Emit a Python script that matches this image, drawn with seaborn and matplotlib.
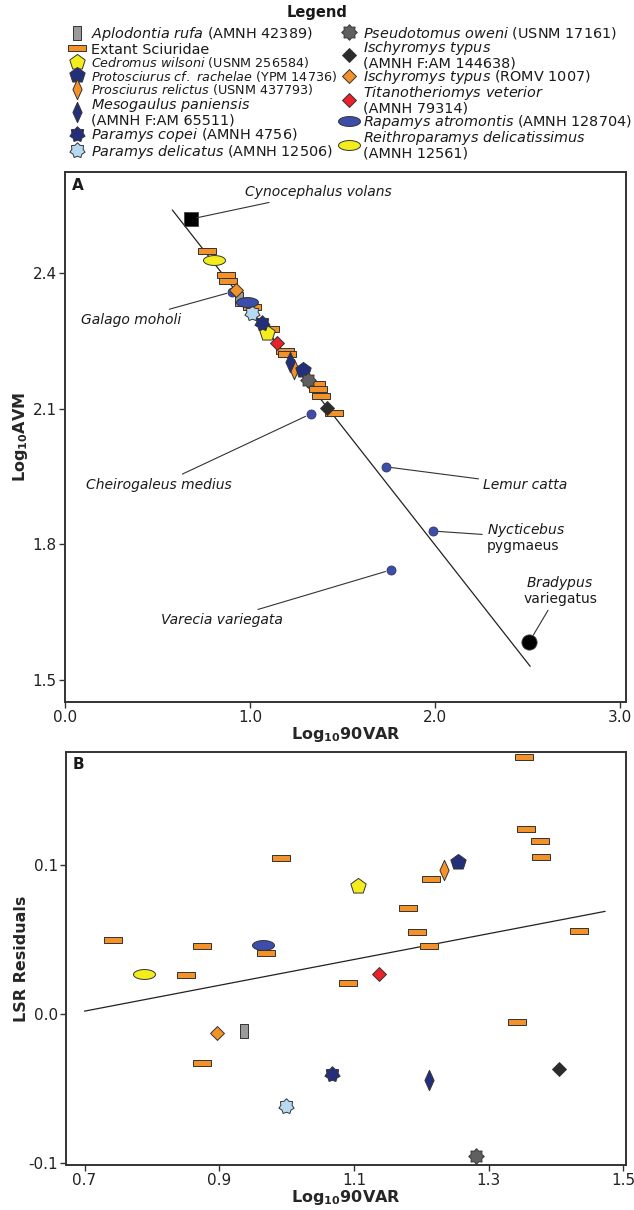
import numpy as np
import seaborn as sns
import matplotlib.pyplot as plt
from matplotlib.path import Path

# ---- data ----
# fossil rodents (legend order)
fossil_labels = [
    r"$\mathit{Aplodontia\ rufa}$ (AMNH 42389)",
    r"$\mathit{Cedromus\ wilsoni}$ (USNM 256584)",
    r"$\mathit{Protosciurus\ cf.\ rachelae}$ (YPM 14736)",
    r"$\mathit{Prosciurus\ relictus}$ (USNM 437793)",
    r"$\mathit{Mesogaulus\ paniensis}$" + "\n(AMNH F:AM 65511)",
    r"$\mathit{Paramys\ copei}$ (AMNH 4756)",
    r"$\mathit{Paramys\ delicatus}$ (AMNH 12506)",
    r"$\mathit{Pseudotomus\ oweni}$ (USNM 17161)",
    r"$\mathit{Ischyromys\ typus}$" + "\n(AMNH F:AM 144638)",
    r"$\mathit{Ischyromys\ typus}$ (ROMV 1007)",
    r"$\mathit{Titanotheriomys\ veterior}$" + "\n(AMNH 79314)",
    r"$\mathit{Rapamys\ atromontis}$ (AMNH 128704)",
    r"$\mathit{Reithroparamys\ delicatissimus}$" + "\n(AMNH 12561)",
]
fossil_var_a = [0.942, 1.094, 1.288, 1.240, 1.216, 1.066, 1.012, 1.315, 1.414, 0.924, 1.148, 0.986, 0.805]
fossil_avm = [2.342, 2.266, 2.185, 2.188, 2.202, 2.290, 2.312, 2.163, 2.102, 2.361, 2.245, 2.336, 2.429]
fossil_var_b = [0.937, 1.106, 1.255, 1.234, 1.212, 1.067, 0.999, 1.282, 1.404, 0.897, 1.137, 0.965, 0.788]
fossil_res = [-0.011, 0.086, 0.102, 0.097, -0.044, -0.040, -0.062, -0.095, -0.037, -0.013, 0.027, 0.0465, 0.027]

sciurid_label = "Extant Sciuridae"
sciurid_var_a = [0.766, 0.869, 0.883, 1.009, 1.108, 1.189, 1.198, 1.355, 1.366, 1.384, 1.454]
sciurid_avm = [2.449, 2.396, 2.382, 2.325, 2.275, 2.227, 2.221, 2.154, 2.144, 2.127, 2.090]
sciurid_var_b = [0.742, 0.875, 0.969, 0.851, 0.991, 1.091, 1.353, 1.356, 1.377, 1.378, 1.215,
                 1.180, 1.194, 1.212, 1.434, 0.875, 1.342]
sciurid_res = [0.050, 0.046, 0.041, 0.026, 0.1045, 0.021, 0.1725, 0.124, 0.116, 0.1055, 0.0905,
               0.071, 0.055, 0.046, 0.056, -0.033, -0.005]

primate_names = ["Galago moholi", "Cheirogaleus medius", "Lemur catta",
                 "Nycticebus pygmaeus", "Varecia variegata"]
primate_var = [0.903, 1.328, 1.735, 1.989, 1.761]
primate_avm = [2.358, 2.088, 1.971, 1.829, 1.743]

cyno_var, cyno_avm = [0.681], [2.519]
brady_var, brady_avm = [2.508], [1.583]

lsr_a_var, lsr_a_avm = [0.58, 2.514], [2.539, 1.530]
lsr_b_var, lsr_b_res = [0.700, 1.473], [0.002, 0.069]


# ---- marker shapes ----
def poly(verts):
    return Path(np.vstack([verts, verts[:1]]), closed=True)


def star(n, inner):
    k = np.arange(2 * n)
    ang = np.pi / 2 + k * np.pi / n
    r = np.where(k % 2 == 0, 1.0, inner)
    return poly(np.column_stack([r * np.cos(ang), r * np.sin(ang)]))


t = np.linspace(0, 2 * np.pi, 60, endpoint=False)
m_bar = poly(np.array([(-1, -0.3), (1, -0.3), (1, 0.3), (-1, 0.3)]))
m_tall = poly(np.array([(-0.6, -1), (0.6, -1), (0.6, 1), (-0.6, 1)]))
m_diam = poly(np.array([(0, 1), (1, 0), (0, -1), (-1, 0)]))
m_thin = poly(np.array([(0, 1), (0.45, 0), (0, -1), (-0.45, 0)]))
m_ell = poly(np.column_stack([np.cos(t), 0.45 * np.sin(t)]))
m_star7 = star(7, 0.74)
m_star8 = star(8, 0.74)

orange, navy, yellow = "#F39229", "#242F7C", "#F3ED1E"
fossil_style = [
    (m_tall, "#9B9B9B", 110),
    ("p", yellow, 135),
    ("p", navy, 135),
    (m_thin, orange, 215),
    (m_thin, navy, 215),
    (m_star7, navy, 125),
    (m_star7, "#B7DAF2", 125),
    (m_star8, "#606060", 125),
    (m_diam, "#2B2B2B", 100),
    (m_diam, orange, 100),
    (m_diam, "#E8212B", 100),
    (m_ell, "#3D4DAA", 250),
    (m_ell, yellow, 250),
]
draw_order = [0, 3, 4, 1, 2, 5, 6, 7, 8, 9, 10, 11, 12]
edge = dict(edgecolor="#333333", linewidth=0.7)

sns.set_theme(style="ticks")
plt.rcParams["font.family"] = ["DejaVu Sans"]
plt.rcParams["mathtext.fontset"] = "custom"
plt.rcParams["mathtext.rm"] = "DejaVu Sans"
plt.rcParams["mathtext.it"] = "DejaVu Sans:italic"
plt.rcParams["mathtext.bf"] = "DejaVu Sans:bold"
plt.rcParams["text.color"] = "#1a1a1a"

fig = plt.figure(figsize=(6.34, 12.1), dpi=100)
ax_a = fig.add_axes([65 / 634, 1 - 702 / 1210, 561 / 634, 530 / 1210])
ax_b = fig.add_axes([66 / 634, 1 - 1165 / 1210, 560 / 634, 413 / 1210])

# ---- panel A ----
sns.lineplot(x=lsr_a_var, y=lsr_a_avm, ax=ax_a, color="#222222", lw=0.9, zorder=1)
sns.scatterplot(x=primate_var, y=primate_avm, ax=ax_a, marker="o", s=42,
                color="#3D4DAA", edgecolor="#333366", linewidth=0.6, zorder=2, legend=False)
sns.scatterplot(x=cyno_var, y=cyno_avm, ax=ax_a, marker="s", s=110, color="black",
                edgecolor="#444444", linewidth=0.6, zorder=2, legend=False)
sns.scatterplot(x=brady_var, y=brady_avm, ax=ax_a, marker="o", s=120, color="black",
                edgecolor="#444444", linewidth=0.6, zorder=2, legend=False)
sns.scatterplot(x=sciurid_var_a, y=sciurid_avm, ax=ax_a, marker=m_bar, s=180, color=orange,
                label=sciurid_label, zorder=3, legend=False, **edge)
for i in draw_order:
    mk, col, sz = fossil_style[i]
    sns.scatterplot(x=[fossil_var_a[i]], y=[fossil_avm[i]], ax=ax_a, marker=mk, s=sz,
                    color=col, label=fossil_labels[i], zorder=4, legend=False, **edge)

ax_a.set_xlim(0, 3.032)
ax_a.set_ylim(1.451, 2.623)
ax_a.set_xticks([0, 1, 2, 3], ["0.0", "1.0", "2.0", "3.0"])
ax_a.set_yticks([1.5, 1.8, 2.1, 2.4], ["1.5", "1.8", "2.1", "2.4"])
ax_a.set_xlabel(r"$\mathbf{Log_{10}90VAR}$", fontsize=11.5, labelpad=0)
ax_a.set_ylabel(r"$\mathbf{Log_{10}AVM}$", fontsize=11.5, labelpad=2)
ax_a.text(0.012, 0.975, "A", transform=ax_a.transAxes, fontweight="bold", fontsize=11,
          ha="left", va="center")

line = dict(arrowstyle="-", color="#333333", lw=0.8, shrinkA=1, shrinkB=4)
it = dict(fontsize=10, fontstyle="italic")
ax_a.annotate("Cynocephalus volans", xy=(cyno_var[0], cyno_avm[0]), xytext=(0.975, 2.579),
              ha="left", va="center", arrowprops=line, **it)
ax_a.annotate("Galago moholi", xy=(primate_var[0], primate_avm[0]), xytext=(0.627, 2.296),
              ha="right", va="center", arrowprops=line, **it)
ax_a.annotate("Cheirogaleus medius", xy=(primate_var[1], primate_avm[1]), xytext=(0.903, 1.931),
              ha="right", va="center", arrowprops=line, **it)
ax_a.annotate("Lemur catta", xy=(primate_var[2], primate_avm[2]), xytext=(2.26, 1.931),
              ha="left", va="center", arrowprops=line, **it)
ax_a.annotate(r"$\mathit{Nycticebus}$" + "\npygmaeus", xy=(primate_var[3], primate_avm[3]),
              xytext=(2.28, 1.815), ha="left", va="center", fontsize=10, linespacing=1.0,
              arrowprops=line)
ax_a.annotate("Varecia variegata", xy=(primate_var[4], primate_avm[4]), xytext=(1.178, 1.632),
              ha="right", va="center", arrowprops=line, **it)
ax_a.annotate(r"$\mathit{Bradypus}$" + "\nvariegatus", xy=(brady_var[0], brady_avm[0]),
              xytext=(2.676, 1.699), ha="center", va="center", multialignment="center",
              fontsize=10, linespacing=1.0, arrowprops=dict(line, shrinkB=6))

# ---- panel B ----
sns.lineplot(x=lsr_b_var, y=lsr_b_res, ax=ax_b, color="#222222", lw=0.9, zorder=1)
sns.scatterplot(x=sciurid_var_b, y=sciurid_res, ax=ax_b, marker=m_bar, s=180, color=orange,
                zorder=3, legend=False, **edge)
for i in draw_order:
    mk, col, sz = fossil_style[i]
    sns.scatterplot(x=[fossil_var_b[i]], y=[fossil_res[i]], ax=ax_b, marker=mk, s=sz,
                    color=col, zorder=4, legend=False, **edge)

ax_b.set_xlim(0.6725, 1.504)
ax_b.set_ylim(-0.1013, 0.176)
ax_b.set_xticks([0.7, 0.9, 1.1, 1.3, 1.5], ["0.7", "0.9", "1.1", "1.3", "1.5"])
ax_b.set_yticks([-0.1, 0.0, 0.1], ["-0.1", "0.0", "0.1"])
ax_b.set_xlabel(r"$\mathbf{Log_{10}90VAR}$", fontsize=11.5, labelpad=0)
ax_b.set_ylabel("LSR Residuals", fontsize=11.5, fontweight="bold", labelpad=-1)
ax_b.text(0.012, 0.97, "B", transform=ax_b.transAxes, fontweight="bold", fontsize=11,
          ha="left", va="center")

for ax in (ax_a, ax_b):
    for sp in ax.spines.values():
        sp.set_color("#333333")
        sp.set_linewidth(1.4)
    ax.tick_params(direction="out", length=4, width=1, color="#333333",
                   labelsize=11, labelcolor="#222222", pad=2)

# ---- legend ----
handles, labels = ax_a.get_legend_handles_labels()
lookup = dict(zip(labels, handles))
left_col = [fossil_labels[0], sciurid_label] + fossil_labels[1:7]
right_col = fossil_labels[7:]
narrow = set(fossil_labels[1:4])
common = dict(frameon=False, fontsize=10.4, handlelength=1.5, handleheight=1.15,
              handletextpad=0.25, borderpad=0, borderaxespad=0, loc="upper left",
              scatterpoints=1)
leg_l = fig.legend([lookup[l] for l in left_col], left_col, labelspacing=-0.1,
                   bbox_to_anchor=(66 / 634, 1 - 25 / 1210), **common)
leg_r = fig.legend([lookup[l] for l in right_col], right_col, labelspacing=-0.15,
                   bbox_to_anchor=(338 / 634, 1 - 25 / 1210), **common)
for leg in (leg_l, leg_r):
    for txt in leg.get_texts():
        txt.set_linespacing(0.95)
        if txt.get_text() in narrow:
            txt.set_fontsize(9.2)
fig.text(317 / 634, 1 - 12 / 1210, "Legend", ha="center", va="center",
         fontweight="bold", fontsize=10.5)

fig.savefig("out.png", dpi=100)
